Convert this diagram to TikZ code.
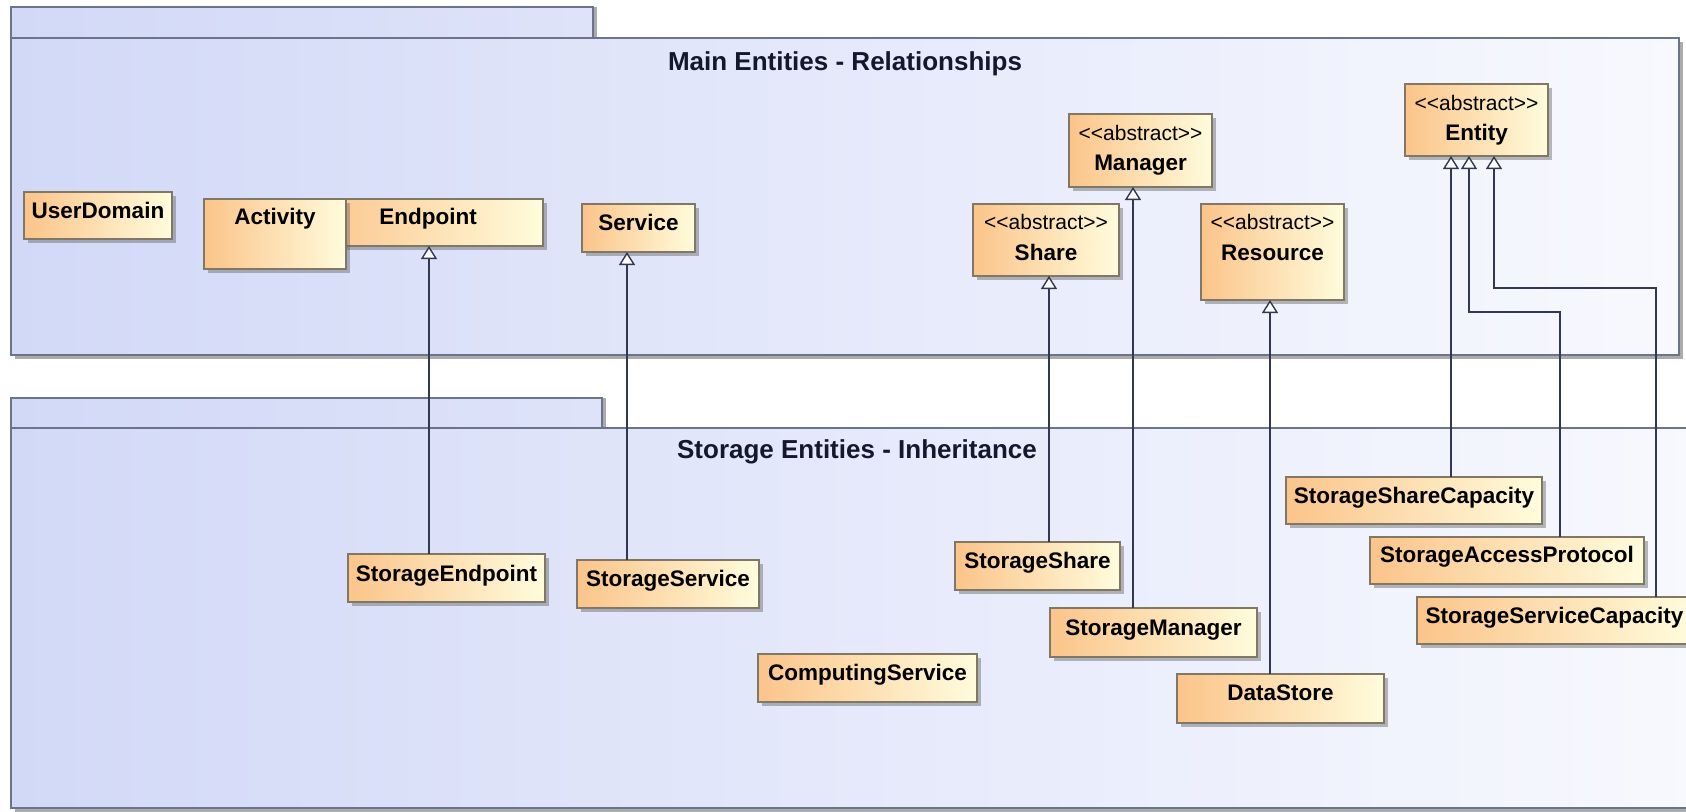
\documentclass[tikz,border=0pt]{standalone}
\usepackage{fontspec}
\setmainfont{Liberation Sans}
\usetikzlibrary{arrows.meta,shadows}

% package and class colours
\definecolor{pkgL}{RGB}{210,217,247}
\definecolor{pkgR}{RGB}{248,249,254}
\definecolor{tabR}{RGB}{222,227,249}
\definecolor{pkgLine}{RGB}{108,116,140}
\definecolor{clsL}{RGB}{251,196,138}
\definecolor{clsR}{RGB}{255,252,220}
\definecolor{clsLine}{RGB}{128,120,100}
\definecolor{genLine}{RGB}{50,56,80}
\definecolor{titleC}{RGB}{20,24,44}

% <<abstract>> without the guillemet ligature
\newcommand\stereoAbstract{<\kern0pt<abstract>\kern0pt>}

\tikzset{
  pkgbody/.style={draw=pkgLine, line width=2pt, left color=pkgL, right color=pkgR,
    inner sep=0, outer sep=0, anchor=north west,
    drop shadow={shadow xshift=4pt, shadow yshift=-4pt, fill=black!60, opacity=0.55}},
  pkgtab/.style={draw=pkgLine, line width=2pt, left color=pkgL, right color=tabR,
    inner sep=0, outer sep=0, anchor=north west,
    drop shadow={shadow xshift=4pt, shadow yshift=0pt, fill=black!60, opacity=0.55}},
  cls/.style={draw=clsLine, line width=1.2pt, left color=clsL, right color=clsR,
    inner sep=0, outer sep=0, anchor=north west,
    drop shadow={shadow xshift=4pt, shadow yshift=-4pt, fill=black!60, opacity=0.45}},
  cname/.style={font=\bfseries\fontsize{22.5}{26}\selectfont, inner sep=0, anchor=base, text=black},
  stereo/.style={font=\fontsize{21}{24}\selectfont, inner sep=0, anchor=base, text=black},
  ptitle/.style={font=\bfseries\fontsize{26}{30}\selectfont, inner sep=0, anchor=base, text=titleC},
  gen/.style={draw=genLine, line width=1.4pt, -{Triangle[length=13pt,width=16pt,fill=white]}},
}

\begin{document}
\begin{tikzpicture}[x=1pt,y=-1pt]
\useasboundingbox (0,0) rectangle (1686,811);
\clip (0,0) rectangle (1686,811);
\fill[white] (0,0) rectangle (1686,811);

% ---------- packages ----------
\node[pkgtab, minimum width=582pt, minimum height=31pt] (maintab) at (11,7) {};
\node[pkgbody, minimum width=1668pt, minimum height=317pt] (mainpkg) at (11,38) {};
\node[ptitle] (maintitle) at (mainpkg.center |- 0,70) {Main Entities - Relationships};

\node[pkgtab, minimum width=591pt, minimum height=30pt] (stortab) at (11,398) {};
\node[pkgbody, minimum width=1692pt, minimum height=380pt] (storpkg) at (11,428) {};
\node[ptitle] (stortitle) at (857,458) {Storage Entities - Inheritance};

% ---------- main entities ----------
\node[cls, minimum width=148pt, minimum height=47pt] (userdomain) at (24,192) {};
\node[cname] (userdomain-t) at (userdomain.center |- 0,218) {UserDomain};

\node[cls, minimum width=230pt, minimum height=47pt] (endpoint) at (313,199) {};
\node[cname] (endpoint-t) at (endpoint.center |- 0,224) {Endpoint};

\node[cls, minimum width=142pt, minimum height=70pt] (activity) at (204,199) {};
\node[cname] (activity-t) at (activity.center |- 0,224) {Activity};

\node[cls, minimum width=113pt, minimum height=48pt] (service) at (582,204) {};
\node[cname] (service-t) at (service.center |- 0,230) {Service};

\node[cls, minimum width=143pt, minimum height=73pt] (manager) at (1069,114) {};
\node[stereo] (manager-s) at (manager.center |- 0,140) {\stereoAbstract};
\node[cname] (manager-t) at (manager.center |- 0,170) {Manager};

\node[cls, minimum width=146pt, minimum height=72pt] (share) at (973,204) {};
\node[stereo] (share-s) at (share.center |- 0,229) {\stereoAbstract};
\node[cname] (share-t) at (share.center |- 0,260) {Share};

\node[cls, minimum width=143pt, minimum height=96pt] (resource) at (1201,204) {};
\node[stereo] (resource-s) at (resource.center |- 0,229) {\stereoAbstract};
\node[cname] (resource-t) at (resource.center |- 0,260) {Resource};

\node[cls, minimum width=143pt, minimum height=72pt] (entity) at (1405,84) {};
\node[stereo] (entity-s) at (entity.center |- 0,110) {\stereoAbstract};
\node[cname] (entity-t) at (entity.center |- 0,140) {Entity};

% ---------- storage entities ----------
\node[cls, minimum width=197pt, minimum height=48pt] (sendpoint) at (348,554) {};
\node[cname] (sendpoint-t) at (sendpoint.center |- 0,581) {StorageEndpoint};

\node[cls, minimum width=182pt, minimum height=48pt] (sservice) at (577,560) {};
\node[cname] (sservice-t) at (sservice.center |- 0,586) {StorageService};

\node[cls, minimum width=219pt, minimum height=48pt] (cservice) at (758,654) {};
\node[cname] (cservice-t) at (cservice.center |- 0,680) {ComputingService};

\node[cls, minimum width=165pt, minimum height=48pt] (sshare) at (955,542) {};
\node[cname] (sshare-t) at (sshare.center |- 0,568) {StorageShare};

\node[cls, minimum width=207pt, minimum height=49pt] (smanager) at (1050,608) {};
\node[cname] (smanager-t) at (smanager.center |- 0,635) {StorageManager};

\node[cls, minimum width=207pt, minimum height=49pt] (datastore) at (1177,674) {};
\node[cname] (datastore-t) at (datastore.center |- 0,700) {DataStore};

\node[cls, minimum width=256pt, minimum height=47pt] (ssharecap) at (1286,477) {};
\node[cname] (ssharecap-t) at (ssharecap.center |- 0,503) {StorageShareCapacity};

\node[cls, minimum width=274pt, minimum height=47pt] (saccess) at (1370,537) {};
\node[cname] (saccess-t) at (saccess.center |- 0,562) {StorageAccessProtocol};

\node[cls, minimum width=275pt, minimum height=47pt] (sservcap) at (1417,597) {};
\node[cname] (sservcap-t) at (sservcap.center |- 0,623) {StorageServiceCapacity};

% ---------- generalizations ----------
\coordinate (xEndpoint) at (429,0);
\coordinate (xService) at (627,0);
\coordinate (xShare) at (1049,0);
\coordinate (xManager) at (1133,0);
\coordinate (xResource) at (1270,0);
\coordinate (xEntityA) at (1451,0);
\coordinate (bendB1) at (1469,312);
\coordinate (bendB2) at (1560,312);
\coordinate (bendC1) at (1494,288);
\coordinate (bendC2) at (1656,288);

\draw[gen] (sendpoint.north -| xEndpoint) -- (endpoint.south -| xEndpoint);
\draw[gen] (sservice.north -| xService) -- (service.south -| xService);
\draw[gen] (sshare.north -| xShare) -- (share.south -| xShare);
\draw[gen] (smanager.north -| xManager) -- (manager.south -| xManager);
\draw[gen] (datastore.north -| xResource) -- (resource.south -| xResource);
\draw[gen] (ssharecap.north -| xEntityA) -- (entity.south -| xEntityA);
\draw[gen] (saccess.north -| bendB2) -- (bendB2) -- (bendB1) -- (entity.south -| bendB1);
\draw[gen] (sservcap.north -| bendC2) -- (bendC2) -- (bendC1) -- (entity.south -| bendC1);
\end{tikzpicture}
\end{document}
